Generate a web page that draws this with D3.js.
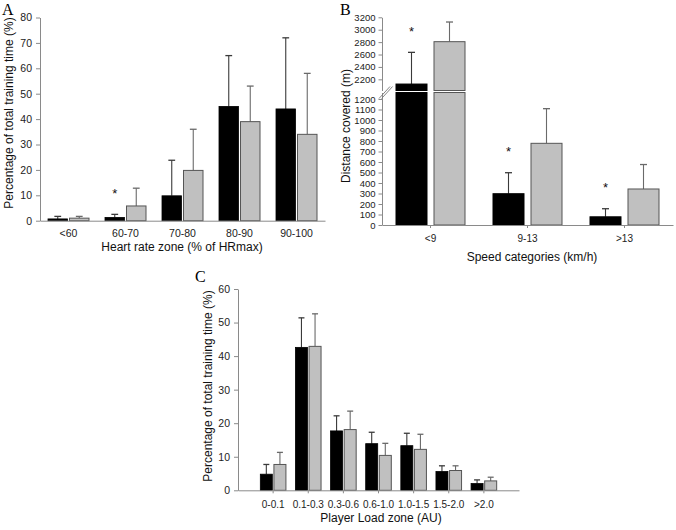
<!DOCTYPE html>
<html>
<head>
<meta charset="utf-8">
<script src="https://cdn.jsdelivr.net/npm/d3@7"></script>
<style>
  body { margin: 0; background: #fff; }
  svg { display: block; }
</style>
</head>
<body>
<div id="chart"></div>
<script>
// panel A - heart rate zones (% of training time)
const hrZones = ['<60', '60-70', '70-80', '80-90', '90-100']
const hrBlack = [0.7, 1.3, 9.8, 45, 44]
const hrBlackSd = [1.0, 1.2, 14, 20, 28]
const hrGrey = [1.0, 5.8, 19.8, 39, 34]
const hrGreySd = [0.7, 7.0, 16.2, 14, 24]
const hrStars = [false, true, false, false, false]

// panel B - distance per speed category (m)
const speedCats = ['<9', '9-13', '>13']
const speedBlack = [2124, 298, 78]
const speedBlackSd = [511, 200, 77]
const speedGrey = [2807, 778, 343]
const speedGreySd = [317, 330, 233]
const speedStars = [true, true, true]
const speedTicksLow = d3.range(0, 1201, 100)
const speedTicksHigh = d3.range(2200, 3201, 200)

// panel C - player load zones (% of training time)
const loadZones = ['0-0.1', '0.1-0.3', '0.3-0.6', '0.6-1.0', '1.0-1.5', '1.5-2.0', '>2.0']
const loadBlack = [4.8, 42.6, 17.7, 13.9, 13.3, 5.6, 2.0]
const loadBlackSd = [2.9, 8.8, 4.5, 3.4, 3.7, 1.7, 1.1]
const loadGrey = [7.7, 42.9, 18.1, 10.4, 12.2, 5.9, 2.8]
const loadGreySd = [3.6, 9.7, 5.5, 3.6, 4.5, 1.4, 1.1]

const FONT = 'Arial, "Liberation Sans", sans-serif'
const SERIF = '"Times New Roman", "Liberation Serif", serif'
const AXIS = '#8a8a8a'

const svg = d3.select('#chart').append('svg')
  .attr('width', 676)
  .attr('height', 530)

function styleAxis (g, fs) {
  g.select('.domain').attr('stroke', AXIS)
  g.selectAll('.tick line').attr('stroke', AXIS)
  g.selectAll('.tick text')
    .attr('fill', '#222')
    .style('font-size', fs + 'px')
    .style('font-family', FONT)
}

function label (txt, x, y, opt = {}) {
  const t = svg.append('text')
    .text(txt)
    .attr('fill', opt.fill || '#111')
    .style('font-family', opt.family || FONT)
    .style('font-size', (opt.size || 11.5) + 'px')
  if (opt.rotate) {
    t.attr('transform', `translate(${x},${y}) rotate(-90)`).attr('text-anchor', 'middle')
  } else {
    t.attr('x', x).attr('y', y).attr('text-anchor', opt.anchor || 'middle')
  }
  return t
}

// upward error bar with a short cap
function errorBar (g, cx, yFrom, yTo, color, cap) {
  g.append('line')
    .attr('x1', cx).attr('x2', cx)
    .attr('y1', yFrom).attr('y2', yTo)
    .attr('stroke', color).attr('stroke-width', 1.1)
  g.append('line')
    .attr('x1', cx - cap).attr('x2', cx + cap)
    .attr('y1', yTo).attr('y2', yTo)
    .attr('stroke', color).attr('stroke-width', 1.3)
}

function star (g, cx, yErr) {
  g.append('text')
    .text('*')
    .attr('x', cx).attr('y', yErr - 4.6)
    .attr('text-anchor', 'middle')
    .attr('fill', '#111')
    .style('font-family', FONT)
    .style('font-size', '13px')
}

function barPair (g, x, y, cats, black, blackSd, grey, greySd, conf) {
  cats.forEach((c, i) => {
    const cx = x(c) + x.bandwidth() / 2
    const bx = cx - conf.gap / 2 - conf.bw
    const gx = cx + conf.gap / 2
    errorBar(g, bx + conf.bw / 2, y(black[i]), y(black[i] + blackSd[i]), '#3a3a3a', conf.cap)
    errorBar(g, gx + conf.bw / 2, y(grey[i]), y(grey[i] + greySd[i]), '#6a6a6a', conf.cap)
    g.append('rect')
      .attr('x', bx).attr('y', y(black[i]))
      .attr('width', conf.bw).attr('height', y(0) - y(black[i]))
      .attr('fill', '#000').attr('stroke', '#000').attr('stroke-width', 0.8)
    g.append('rect')
      .attr('x', gx).attr('y', y(grey[i]))
      .attr('width', conf.bw).attr('height', y(0) - y(grey[i]))
      .attr('fill', '#c0c0c0').attr('stroke', '#555').attr('stroke-width', 1)
    if (conf.stars && conf.stars[i]) star(g, bx + conf.bw / 2, y(black[i] + blackSd[i]) - 12)
  })
}

// ---------- panel A ----------
function drawA () {
  const g = svg.append('g')
  const x = d3.scaleBand().domain(hrZones).range([40, 325])
  const y = d3.scaleLinear().domain([0, 80]).range([220.7, 17.5])

  barPair(g, x, y, hrZones, hrBlack, hrBlackSd, hrGrey, hrGreySd,
    {bw: 19.5, gap: 2, cap: 3.4, stars: hrStars})

  g.append('g')
    .attr('transform', 'translate(40,0)')
    .call(d3.axisLeft(y).tickValues(d3.range(0, 81, 10)).tickSize(4).tickSizeOuter(0).tickPadding(4))
    .call(a => styleAxis(a, 10.5))
  g.append('g')
    .attr('transform', `translate(0,${y(0)})`)
    .call(d3.axisBottom(x).tickSize(0).tickPadding(8.5))
    .call(a => styleAxis(a, 10.5))

  label('A', 2, 14.5, {family: SERIF, size: 16, anchor: 'start', fill: '#000'})
  label('Percentage of total training time (%)', 12.5, 113, {rotate: true, size: 12})
  label('Heart rate zone (% of HRmax)', 182, 251, {size: 12})
}

// ---------- panel B (broken axis) ----------
function drawB () {
  const g = svg.append('g')
  const x = d3.scaleBand().domain(speedCats).range([382, 673])
  const yLow = d3.scaleLinear().domain([0, 1262]).range([225, 92.5])
  const yUp = d3.scaleLinear().domain([2020, 3200]).range([90.5, 17.3])
  const lowMax = yLow.domain()[1]
  const upMin = yUp.domain()[0]
  const yAny = v => v > lowMax ? yUp(v) : yLow(v)
  const bw = 31
  const gap = 7

  function splitBar (bx, v, fill, stroke) {
    if (v > lowMax) {
      g.append('rect')
        .attr('x', bx).attr('y', yUp(v))
        .attr('width', bw).attr('height', yUp(upMin) - yUp(v))
        .attr('fill', fill).attr('stroke', stroke)
      g.append('rect')
        .attr('x', bx).attr('y', yLow(lowMax))
        .attr('width', bw).attr('height', yLow(0) - yLow(lowMax))
        .attr('fill', fill).attr('stroke', stroke)
    } else {
      g.append('rect')
        .attr('x', bx).attr('y', yLow(v))
        .attr('width', bw).attr('height', yLow(0) - yLow(v))
        .attr('fill', fill).attr('stroke', stroke)
    }
  }

  speedCats.forEach((c, i) => {
    const cx = x(c) + x.bandwidth() / 2
    const bx = cx - gap / 2 - bw
    const gx = cx + gap / 2
    errorBar(g, bx + bw / 2, yAny(speedBlack[i]), yAny(speedBlack[i] + speedBlackSd[i]), '#3a3a3a', 3.5)
    errorBar(g, gx + bw / 2, yAny(speedGrey[i]), yAny(speedGrey[i] + speedGreySd[i]), '#6a6a6a', 3.5)
    splitBar(bx, speedBlack[i], '#000', '#000')
    splitBar(gx, speedGrey[i], '#c0c0c0', '#555')
    if (speedStars[i]) star(g, bx + bw / 2, yAny(speedBlack[i] + speedBlackSd[i]) - 12)
  })

  const fmt = d3.format('d')
  g.append('g')
    .attr('transform', 'translate(382,0)')
    .call(d3.axisLeft(yLow).tickValues(speedTicksLow).tickFormat(fmt).tickSize(3.5).tickSizeOuter(0).tickPadding(3))
    .call(a => styleAxis(a, 9.5))
  g.append('g')
    .attr('transform', 'translate(382,0)')
    .call(d3.axisLeft(yUp).tickValues(speedTicksHigh).tickFormat(fmt).tickSize(3.5).tickSizeOuter(0).tickPadding(3))
    .call(a => styleAxis(a, 9.5))
  g.append('g')
    .attr('transform', `translate(0,${yLow(0)})`)
    .call(d3.axisBottom(x).tickSize(3).tickSizeOuter(0).tickPadding(7))
    .call(a => styleAxis(a, 10))

  // break marks on the y axis
  const yb = (yLow(lowMax) + yUp(upMin)) / 2
  ;[0, 2.6].forEach(dx => {
    g.append('line')
      .attr('x1', 379 + dx).attr('y1', yb + 7)
      .attr('x2', 390 + dx).attr('y2', yb - 5)
      .attr('stroke', '#777').attr('stroke-width', 0.9)
  })

  label('B', 340, 14.5, {family: SERIF, size: 16, anchor: 'start', fill: '#000'})
  label('Distance covered (m)', 349.5, 126, {rotate: true, size: 12})
  label('Speed categories (km/h)', 532, 261, {size: 12})
}

// ---------- panel C ----------
function drawC () {
  const g = svg.append('g')
  const x = d3.scaleBand().domain(loadZones).range([238, 519]).paddingOuter(0.5)
  const y = d3.scaleLinear().domain([0, 60]).range([490.3, 289])

  barPair(g, x, y, loadZones, loadBlack, loadBlackSd, loadGrey, loadGreySd,
    {bw: 12, gap: 1.6, cap: 3})

  g.append('g')
    .attr('transform', 'translate(238,0)')
    .call(d3.axisLeft(y).tickValues(d3.range(0, 61, 10)).tickSize(4).tickSizeOuter(0).tickPadding(4))
    .call(a => styleAxis(a, 10.5))
  g.append('g')
    .attr('transform', `translate(0,${y(0)})`)
    .call(d3.axisBottom(x).tickSize(3).tickSizeOuter(0).tickPadding(8))
    .call(a => styleAxis(a, 10))

  label('C', 195, 282, {family: SERIF, size: 16, anchor: 'start', fill: '#000'})
  label('Percentage of total training time (%)', 212, 386, {rotate: true, size: 12})
  label('Player Load zone (AU)', 381, 522, {size: 12})
}

drawA()
drawB()
drawC()
</script>
</body>
</html>
